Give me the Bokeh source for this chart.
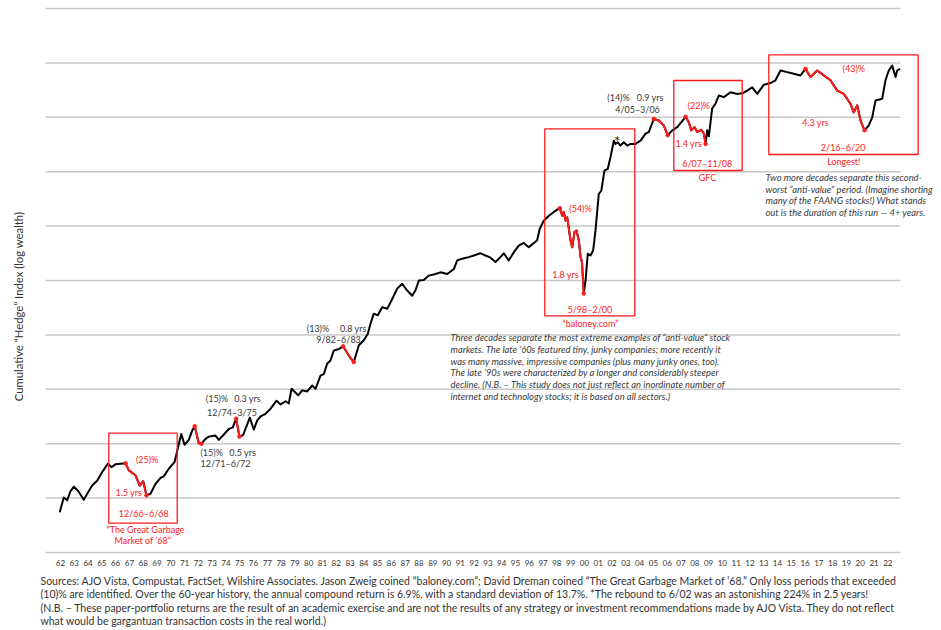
import math
from bokeh.plotting import figure
from bokeh.models import Label, BoxAnnotation, ColumnDataSource
from bokeh.core.properties import value
from bokeh.embed import file_html
from bokeh.resources import INLINE

# ---------------- data ----------------
# decimal year of each observation
dates = [1962.15, 1962.44, 1962.69, 1962.93, 1963.17, 1963.49, 1963.89, 1964.26, 1964.50, 1964.86,
         1965.23, 1965.63, 1965.90, 1966.19, 1966.55, 1966.92, 1967.16, 1967.64, 1967.95, 1968.20,
         1968.44, 1968.73, 1969.09, 1969.46, 1969.69, 1970.06, 1970.47, 1970.67, 1970.96, 1971.20,
         1971.51, 1971.75, 1971.94, 1972.23, 1972.43, 1972.72, 1972.96, 1973.44, 1973.68, 1974.05,
         1974.41, 1974.70, 1974.94, 1975.18, 1975.45, 1975.93, 1976.22, 1976.47, 1976.71, 1977.07,
         1977.43, 1977.87, 1978.16, 1978.52, 1978.76, 1978.96, 1979.44, 1979.73, 1980.09, 1980.46,
         1980.70, 1981.06, 1981.30, 1981.54, 1981.78, 1982.02, 1982.38, 1982.70, 1983.11, 1983.47,
         1983.84, 1984.20, 1984.49, 1984.68, 1984.92, 1985.21, 1985.53, 1985.90, 1986.26, 1986.62,
         1986.98, 1987.30, 1987.71, 1987.95, 1988.19, 1988.55, 1988.91, 1989.40, 1989.76, 1990.25,
         1990.73, 1990.97, 1991.33, 1991.81, 1992.18, 1992.66, 1993.02, 1993.39, 1993.75, 1994.11,
         1994.35, 1994.71, 1995.08, 1995.44, 1995.80, 1996.16, 1996.53, 1996.77, 1996.96, 1997.25,
         1997.62, 1997.98, 1998.41, 1998.59, 1998.70, 1998.83, 1998.95, 1999.19, 1999.31, 1999.48,
         1999.62, 1999.79, 1999.92, 2000.02, 2000.15, 2000.28, 2000.44, 2000.64, 2000.83, 2001.00,
         2001.24, 2001.42, 2001.65, 2001.89, 2002.09, 2002.33, 2002.45, 2002.62, 2002.81, 2003.05,
         2003.30, 2003.54, 2003.90, 2004.27, 2004.63, 2004.87, 2005.23, 2005.59, 2005.95, 2006.24,
         2006.57, 2006.93, 2007.29, 2007.53, 2007.77, 2007.94, 2008.18, 2008.38, 2008.67, 2008.86,
         2008.98, 2009.10, 2009.22, 2009.46, 2009.70, 2009.94, 2010.31, 2010.79, 2011.28, 2011.64,
         2012.00, 2012.37, 2012.73, 2013.21, 2013.69, 2014.05, 2014.42, 2014.90, 2015.38, 2015.87,
         2016.23, 2016.59, 2017.08, 2017.56, 2018.04, 2018.53, 2019.01, 2019.49, 2019.73, 2019.98,
         2020.22, 2020.51, 2020.82, 2021.07, 2021.31, 2021.79, 2022.03, 2022.27, 2022.52, 2022.76,
         2022.88, 2023.08]

# cumulative hedge index, log wealth (one unit = one gridline step)
log_wealth = [0.74, 1.01, 0.96, 1.13, 1.21, 1.13, 0.97, 1.13, 1.23, 1.32,
              1.48, 1.63, 1.57, 1.62, 1.63, 1.64, 1.51, 1.42, 1.23, 1.31,
              1.05, 1.08, 1.26, 1.37, 1.40, 1.54, 1.66, 1.87, 2.18, 1.98,
              2.07, 2.24, 2.32, 2.01, 2.00, 2.09, 2.13, 2.15, 2.07, 2.17,
              2.27, 2.30, 2.46, 2.13, 2.16, 2.48, 2.26, 2.43, 2.50, 2.55,
              2.64, 2.79, 2.72, 2.78, 2.74, 3.01, 2.89, 2.98, 2.96, 3.07,
              3.01, 3.25, 3.28, 3.47, 3.53, 3.71, 3.74, 3.79, 3.62, 3.50,
              3.81, 3.90, 4.02, 4.20, 4.39, 4.36, 4.51, 4.48, 4.66, 4.85,
              4.94, 4.83, 4.72, 4.82, 5.00, 5.01, 5.09, 5.12, 5.15, 5.12,
              5.21, 5.37, 5.40, 5.43, 5.46, 5.50, 5.46, 5.42, 5.34, 5.43,
              5.50, 5.37, 5.52, 5.64, 5.69, 5.61, 5.69, 5.74, 5.95, 6.10,
              6.19, 6.26, 6.33, 6.19, 6.26, 6.10, 6.16, 5.74, 5.61, 5.89,
              5.92, 5.74, 5.43, 5.34, 4.76, 5.00, 5.49, 5.46, 5.55, 5.92,
              6.59, 6.65, 7.02, 7.05, 7.27, 7.57, 7.51, 7.54, 7.48, 7.54,
              7.48, 7.51, 7.51, 7.57, 7.70, 7.73, 7.97, 7.94, 7.85, 7.67,
              7.76, 7.82, 7.93, 8.01, 7.91, 7.76, 7.82, 7.73, 7.77, 7.70,
              7.51, 7.76, 7.65, 8.16, 8.25, 8.40, 8.37, 8.46, 8.43, 8.44,
              8.49, 8.55, 8.43, 8.60, 8.63, 8.68, 8.86, 8.83, 8.80, 8.77,
              8.89, 8.74, 8.86, 8.77, 8.68, 8.49, 8.43, 8.25, 8.09, 8.22,
              7.94, 7.76, 7.85, 8.00, 8.31, 8.34, 8.68, 8.86, 8.95, 8.74,
              8.86, 8.89]

# drawdown periods that exceeded (10)%
dd_start = [1966.92, 1971.94, 1974.94, 1982.70, 1998.41, 2005.23, 2007.53, 2016.23]
dd_end = [1968.44, 1972.43, 1975.18, 1983.47, 2000.15, 2006.24, 2008.98, 2020.51]
dd_loss = ["(25)%", "(15)%", "(15)%", "(13)%", "(54)%", "(14)%", "(22)%", "(43)%"]
dd_length = ["1.5 yrs", "0.5 yrs", "0.3 yrs", "0.8 yrs", "1.8 yrs", "0.9 yrs", "1.4 yrs", "4.3 yrs"]
dd_span = ["12/66\u20136/68", "12/71\u20136/72", "12/74\u20133/75", "9/82\u20136/83",
           "5/98\u20132/00", "4/05\u20133/06", "6/07\u201311/08", "2/16\u20136/20"]
dd_highlight = [True, False, False, False, True, False, True, True]

years = list(range(1962, 2023))
tick_labels = ["62", "63", "64", "65", "66", "67", "68", "69", "70", "71", "72", "73", "74", "75",
               "76", "77", "78", "79", "80", "81", "82", "83", "84", "85", "86", "87", "88", "89",
               "90", "91", "92", "93", "94", "95", "96", "97", "98", "99", "00", "01", "02", "03",
               "04", "05", "06", "07", "08", "09", "10", "11", "12", "13", "14", "15", "16", "17",
               "18", "19", "20", "21", "22"]
grid_levels = [0, 1, 2, 3, 4, 5, 6, 7, 8, 9, 10]

# ---------------- styling / layout ----------------
RED = "#ff1a1a"
DARK = "#3a3a3a"
GRID = "#c8c8c8"
FONT = "Lato"

W, H = 941, 630
# the plotting frame covers the whole canvas so that notes outside the chart area are not clipped
X_RANGE = (1957.852, 2026.093)
Y_RANGE = (-1.434, 10.147)
GRID_X = (1961.115, 2023.12)   # horizontal extent of the chart area
TICK_LABEL_Y = -0.184          # row for the year labels

p = figure(width=W, height=H, output_backend="svg", toolbar_location=None,
           x_range=X_RANGE, y_range=Y_RANGE,
           x_axis_location=None, y_axis_location=None,
           min_border_left=0, min_border_right=0, min_border_top=0, min_border_bottom=0)
p.outline_line_color = None
p.background_fill_color = "white"
p.border_fill_color = "white"
p.xgrid.visible = False
p.ygrid.visible = False

# gridlines (level 0 is the baseline / axis line)
p.multi_line(xs=[list(GRID_X) for _ in grid_levels], ys=[[g, g] for g in grid_levels],
             line_color=GRID, line_width=1.5)

# year labels along the baseline
tick_pos = [y + 0.2 for y in years]
p.text(x=tick_pos, y=[TICK_LABEL_Y] * len(tick_pos), text=tick_labels,
       text_font=value(FONT), text_font_size="8px", text_color="#333333",
       text_align="center", text_baseline="middle")

# full series
src = ColumnDataSource(dict(x=dates, y=log_wealth))
p.line("x", "y", source=src, line_color="black", line_width=2, line_join="round")

# drawdowns in red
for s, e in zip(dd_start, dd_end):
    idx = [i for i, d in enumerate(dates) if s - 1e-6 <= d <= e + 1e-6]
    xs = [dates[i] for i in idx]
    ys = [log_wealth[i] for i in idx]
    p.line(xs, ys, line_color=RED, line_width=2, line_join="round")
    p.scatter([xs[0], xs[-1]], [ys[0], ys[-1]], size=3.5, color=RED)

# ---------------- annotations (pixel layout, origin top-left) ----------------


def txt(text, px, py, color=DARK, size=9, align="center", style="normal", angle=0.0):
    p.add_layout(Label(x=px, y=H - py, x_units="screen", y_units="screen", text=text,
                       text_color=color, text_font=FONT, text_font_size=f"{size}px",
                       text_align=align, text_baseline="middle", text_font_style=style,
                       angle=angle))


def box(x0, y0, x1, y1):
    p.add_layout(BoxAnnotation(left=x0, right=x1, top=H - y0, bottom=H - y1,
                               left_units="screen", right_units="screen",
                               top_units="screen", bottom_units="screen",
                               fill_alpha=0, line_color=RED, line_alpha=1, line_width=1.3))


loss_pos = [(146.7, 459), (211.2, 451.7), (216.5, 398.3), (317.5, 327.7),
            (580, 207.7), (618, 96.7), (698.3, 105), (853.3, 68.3)]
len_pos = [(128.3, 491.7), (242.2, 451.7), (247, 398.3), (352.8, 327.7),
           (565, 274), (649.7, 96.7), (688.3, 143.3), (815, 121.7)]
span_pos = [(143.3, 513.3), (225, 463.3), (231.5, 411.7), (338, 339.3),
            (589.3, 309.3), (637, 109), (706.7, 162.7), (842.7, 147.3)]

for k in range(len(dd_loss)):
    c = RED if dd_highlight[k] else DARK
    txt(dd_loss[k], *loss_pos[k], color=c)
    txt(dd_length[k], *len_pos[k], color=c)
    txt(dd_span[k], *span_pos[k], color=c)

box(108.3, 432.7, 176.7, 522.7)
box(544.3, 128.3, 634.3, 315.3)
box(673.3, 80, 741.7, 170)
box(768.3, 54.3, 917.7, 154)

txt("\u201cThe Great Garbage", 145, 529.3, color=RED)
txt("Market of \u201968\u201d", 142.3, 539.8, color=RED)
txt("\u201cbaloney.com\u201d", 590, 322.5, color=RED)
txt("GFC", 707, 177.3, color=RED)
txt("Longest!", 843.3, 161, color=RED)
txt("*", 616.7, 140, color="#222222", size=15)

para1 = ["Three decades separate the most extreme examples of \u201canti-value\u201d stock",
         "markets. The late \u201960s featured tiny, junky companies; more recently it",
         "was many massive, impressive companies (plus many junky ones, too).",
         "The late \u201990s were characterized by a longer and considerably steeper",
         "decline. (N.B. \u2013 This study does not just reflect an inordinate number of",
         "internet and technology stocks; it is based on all sectors.)"]
for i, line in enumerate(para1):
    txt(line, 450, 336.8 + 11.85 * i, color=DARK, size=9.4, align="left", style="italic")

para2 = ["Two more decades separate this second-",
         "worst \u201canti-value\u201d period. (Imagine shorting",
         "many of the FAANG stocks!) What stands",
         "out is the duration of this run \u2014 4+ years."]
for i, line in enumerate(para2):
    txt(line, 765, 176.7 + 11.85 * i, color=DARK, size=9.4, align="left", style="italic")

txt("Cumulative \u201cHedge\u201d Index (log wealth)", 18, 306, color="#333333", size=11.3,
    angle=math.pi / 2)

foot = ["Sources: AJO Vista, Compustat, FactSet, Wilshire Associates. Jason Zweig coined \u201cbaloney.com\u201d; "
        "David Dreman coined \u201cThe Great Garbage Market of \u201968.\u201d Only loss periods that exceeded",
        "(10)% are identified. Over the 60-year history, the annual compound return is 6.9%, with a standard "
        "deviation of 13.7%. *The rebound to 6/02 was an astonishing 224% in 2.5 years!",
        "(N.B. \u2013 These paper-portfolio returns are the result of an academic exercise and are not the results "
        "of any strategy or investment recommendations made by AJO Vista. They do not reflect",
        "what would be gargantuan transaction costs in the real world.)"]
for i, line in enumerate(foot):
    txt(line, 40, 580 + 13.6 * i, color="#333333", size=10.5, align="left")

open("out.html", "w").write(file_html(p, INLINE))
